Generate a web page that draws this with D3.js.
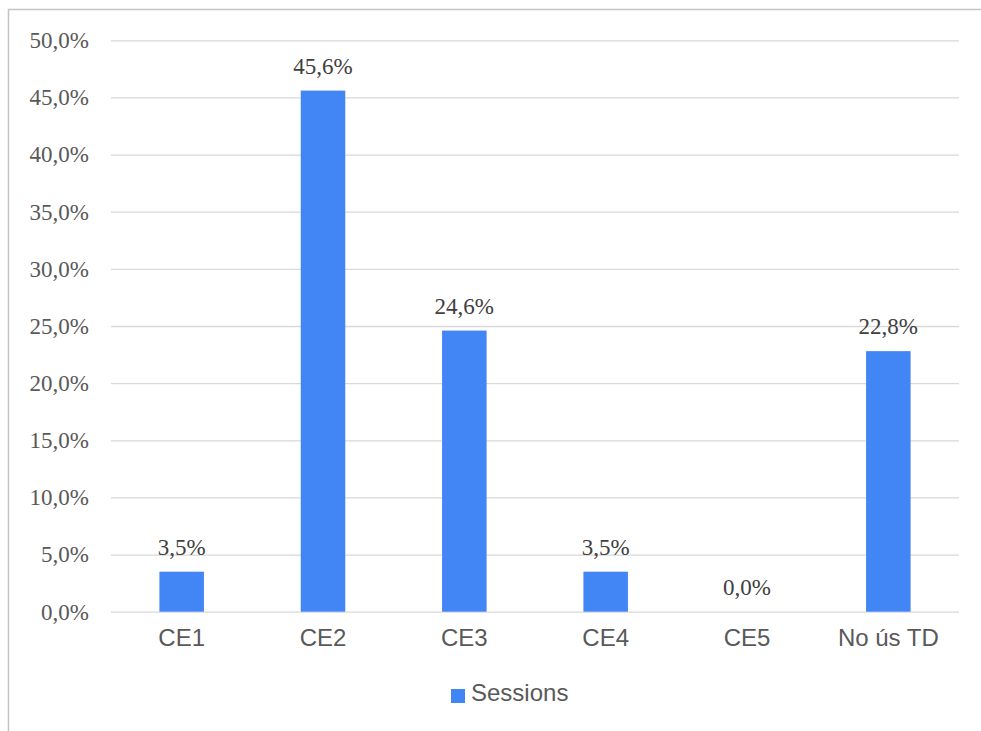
<!DOCTYPE html>
<html><head><meta charset="utf-8">
<script src="https://cdn.jsdelivr.net/npm/d3@7"></script>
<style>body{margin:0;background:#fff}svg{display:block}</style>
</head><body>
<svg id="c" width="981" height="731"></svg>
<script>
const categories = ["CE1","CE2","CE3","CE4","CE5","No ús TD"];
const values = [3.5, 45.6, 24.6, 3.5, 0.0, 22.8];
const yTicks = [0,5,10,15,20,25,30,35,40,45,50];
const seriesName = "Sessions";

const svg = d3.select("#c");
const fmt = v => v.toFixed(1).replace(".", ",") + "%";
const m = {left:111, right:959, top:40.3, bottom:611.7};

svg.append("path").attr("d","M8.5,740V9.5H990").attr("fill","none").attr("stroke","#c4c4c4").attr("stroke-width",1.5);

const x = d3.scaleBand().domain(categories).range([m.left, m.right]).paddingInner(0.685).paddingOuter(0.3425);
const y = d3.scaleLinear().domain([0,50]).range([m.bottom, m.top]);

const gy = svg.append("g").attr("transform",`translate(${m.left},0)`)
  .call(d3.axisLeft(y).tickValues(yTicks).tickFormat(fmt).tickSize(-(m.right-m.left)).tickPadding(22));
gy.select(".domain").remove();
gy.selectAll(".tick line").attr("stroke","#d9d9d9").attr("stroke-width",1.3);
gy.selectAll(".tick text").attr("font-family","'Liberation Serif', serif").attr("font-size",23).attr("fill","#595959");

svg.append("g").selectAll("rect").data(values).join("rect")
  .attr("x",(d,i)=>x(categories[i])).attr("width",x.bandwidth())
  .attr("y",d=>y(d)).attr("height",d=>y(0)-y(d)).attr("fill","#4285f4");

svg.append("g").selectAll("text").data(values).join("text")
  .attr("x",(d,i)=>x(categories[i])+x.bandwidth()/2).attr("y",d=>y(d)-17)
  .attr("text-anchor","middle").attr("font-family","'Liberation Serif', serif").attr("font-size",23)
  .attr("fill","#404040").text(fmt);

const gx = svg.append("g").attr("transform",`translate(0,${m.bottom})`)
  .call(d3.axisBottom(x).tickSize(0).tickPadding(17));
gx.select(".domain").remove();
gx.selectAll(".tick text").attr("font-family","'Liberation Sans', Arial, sans-serif").attr("font-size",24).attr("fill","#595959");

const lg = svg.append("g");
lg.append("rect").attr("x",451).attr("y",689).attr("width",14).attr("height",14).attr("fill","#4285f4");
lg.append("text").attr("x",471).attr("y",701).attr("font-family","'Liberation Sans', Arial, sans-serif").attr("font-size",24).attr("fill","#595959").text(seriesName);
</script>
</body></html>
